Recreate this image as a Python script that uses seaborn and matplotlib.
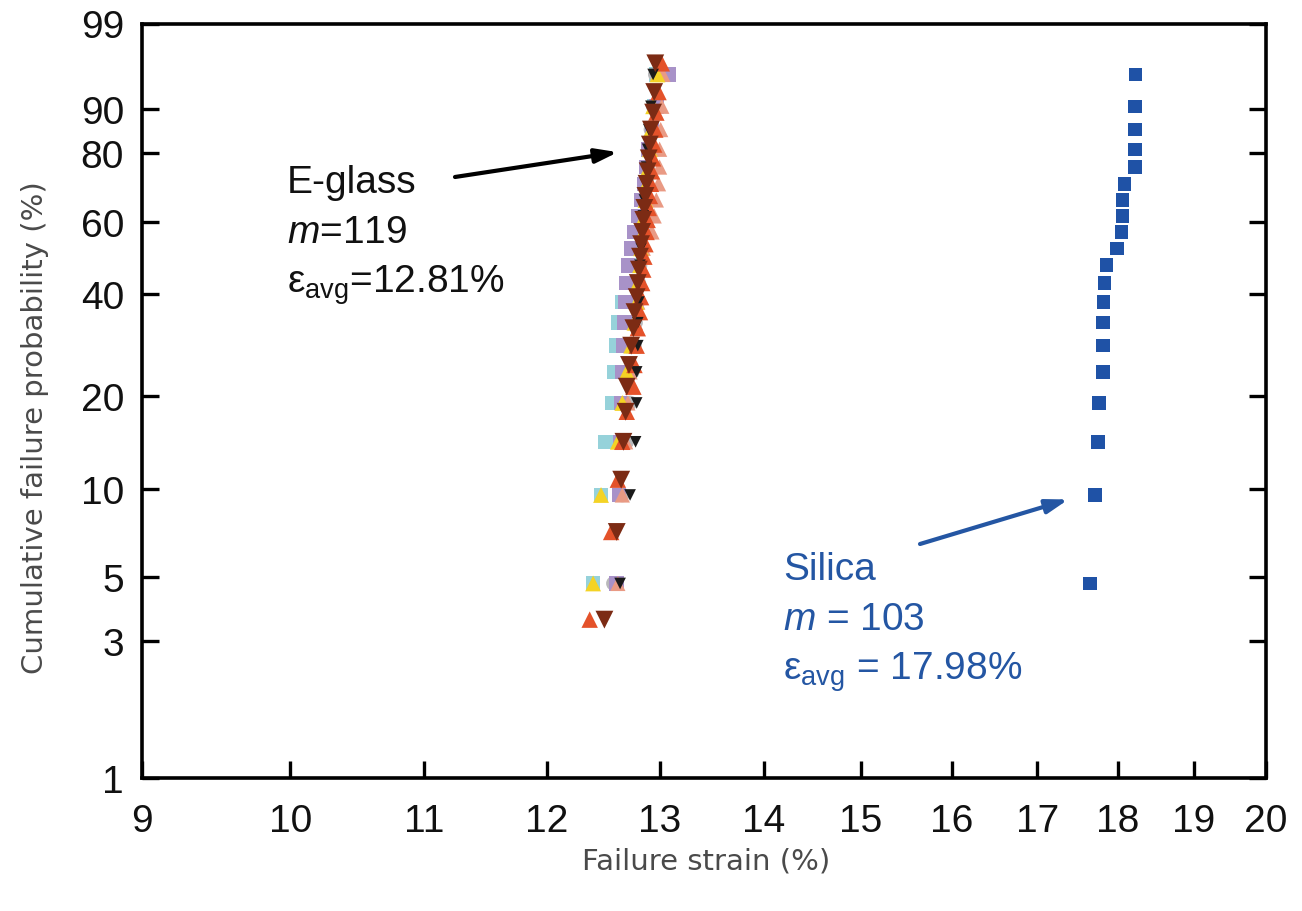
import numpy as np
import pandas as pd
import matplotlib
matplotlib.use("Agg")
import matplotlib.pyplot as plt
from matplotlib.ticker import NullLocator
import seaborn as sns

# ---- failure strains (%) of each tested batch, sorted ascending ----
eglass_lightblue = [12.40, 12.47, 12.51, 12.57, 12.59, 12.61, 12.62, 12.66, 12.70, 12.74,
                    12.78, 12.81, 12.84, 12.86, 12.88, 12.89, 12.91, 12.93, 12.95, 12.97]
eglass_gray = [12.58, 12.66, 12.70, 12.73, 12.75, 12.77, 12.78, 12.80, 12.81, 12.82,
               12.84, 12.85, 12.86, 12.87, 12.88, 12.89, 12.90, 12.92, 12.94, 12.96]
eglass_lavender = [12.61, 12.63, 12.64, 12.65, 12.66, 12.67, 12.68, 12.69, 12.70, 12.71,
                   12.74, 12.77, 12.80, 12.83, 12.86, 12.88, 12.90, 12.93, 12.97, 13.08]
eglass_salmon = [12.62, 12.66, 12.69, 12.71, 12.73, 12.76, 12.78, 12.80, 12.82, 12.83,
                 12.85, 12.93, 12.95, 12.97, 12.99, 13.00, 13.00, 13.01, 13.02, 13.03]
eglass_yellow = [12.40, 12.47, 12.62, 12.66, 12.70, 12.74, 12.77, 12.79, 12.80, 12.82,
                 12.83, 12.85, 12.86, 12.87, 12.88, 12.90, 12.91, 12.92, 12.94, 12.98]
eglass_red = [12.37, 12.56, 12.62, 12.66, 12.70, 12.76, 12.77, 12.79, 12.80, 12.82,
              12.83, 12.84, 12.85, 12.86, 12.87, 12.88, 12.89, 12.90, 12.91, 12.92,
              12.93, 12.94, 12.95, 12.96, 12.97, 12.99, 13.02]
eglass_black = [12.64, 12.73, 12.78, 12.79, 12.79, 12.80, 12.80, 12.81, 12.81, 12.82,
                12.83, 12.84, 12.85, 12.86, 12.87, 12.88, 12.89, 12.90, 12.92, 12.94]
eglass_brown = [12.50, 12.61, 12.65, 12.67, 12.69, 12.70, 12.72, 12.74, 12.76, 12.77,
                12.79, 12.80, 12.81, 12.82, 12.83, 12.84, 12.85, 12.86, 12.87, 12.88,
                12.89, 12.90, 12.91, 12.92, 12.94, 12.95, 12.96]
silica = [17.65, 17.71, 17.75, 17.76, 17.81, 17.81, 17.81, 17.82, 17.83, 17.86,
          17.99, 18.05, 18.06, 18.06, 18.09, 18.22, 18.22, 18.22, 18.22, 18.23]

x_ticks = [9, 10, 11, 12, 13, 14, 15, 16, 17, 18, 19, 20]
y_ticks = [1, 3, 5, 10, 20, 40, 60, 80, 90, 99]

eglass_label = ["E-glass", r"$\mathit{m}$=119", r"$\mathrm{\varepsilon}_{\mathrm{avg}}$=12.81%"]
silica_label = ["Silica", r"$\mathit{m}$ = 103", r"$\mathrm{\varepsilon}_{\mathrm{avg}}$ = 17.98%"]

BLUE = "#2456a3"

# (values, colour, marker, size) in drawing order
series = [
    (eglass_lightblue, "#96d2da", "s", 110),
    (eglass_gray, "#b9b9bb", "o", 110),
    (eglass_lavender, "#a892c8", "s", 110),
    (eglass_salmon, "#e99a84", "^", 120),
    (eglass_yellow, "#f4d325", "^", 130),
    (eglass_red, "#e4522a", "^", 140),
    (eglass_black, "#1a1a1a", "v", 70),
    (eglass_brown, "#7c2b14", "v", 165),
    (silica, "#1f52a6", "s", 95),
]


def median_rank(values):
    n = len(values)
    return [100.0 * (i + 1) / (n + 1) for i in range(n)]


def weibull_fwd(p):
    p = np.clip(np.asarray(p, dtype=float), 1e-6, 100 - 1e-6)
    return np.log(-np.log(1.0 - p / 100.0))


def weibull_inv(w):
    return 100.0 * (1.0 - np.exp(-np.exp(np.asarray(w, dtype=float))))


sns.set_theme(style="white")
plt.rcParams["font.family"] = ["Liberation Sans", "DejaVu Sans"]
plt.rcParams["mathtext.fontset"] = "custom"
plt.rcParams["mathtext.rm"] = "Liberation Sans"
plt.rcParams["mathtext.it"] = "Liberation Sans:italic"
plt.rcParams["mathtext.bf"] = "Liberation Sans:bold"

W, H = 1302, 912
fig = plt.figure(figsize=(W / 100, H / 100), dpi=100)
ax = fig.add_axes([142 / W, 1 - 779 / H, (1266 - 142) / W, (779 - 24.5) / H])

ax.set_xscale("log")
ax.set_yscale("function", functions=(weibull_fwd, weibull_inv))

for values, colour, marker, size in series:
    df = pd.DataFrame({"strain": values, "prob": median_rank(values)})
    sns.scatterplot(data=df, x="strain", y="prob", marker=marker, color=colour,
                    s=size, linewidth=0, edgecolor="none", ax=ax, legend=False,
                    zorder=3)

ax.set_xlim(9, 20)
ax.set_ylim(1, 99)
ax.set_xticks(x_ticks)
ax.set_xticklabels([str(t) for t in x_ticks])
ax.set_yticks(y_ticks)
ax.set_yticklabels([str(t) for t in y_ticks])
ax.xaxis.set_minor_locator(NullLocator())
ax.yaxis.set_minor_locator(NullLocator())
ax.set_xlabel("")
ax.set_ylabel("")

for side in ["left", "right", "top", "bottom"]:
    ax.spines[side].set_visible(True)
    ax.spines[side].set_color("black")
    ax.spines[side].set_linewidth(2.6)

ax.tick_params(axis="both", direction="in", length=12, width=2.4, color="black",
               labelsize=28, labelcolor="#111111")
ax.tick_params(axis="x", bottom=True, top=False, pad=18)
ax.tick_params(axis="y", left=True, right=True, pad=13)

label_font = ["DejaVu Sans"]
fig.text(35 / W, 1 - 428 / H, "Cumulative failure probability (%)", rotation=90,
         ha="center", va="center", fontsize=21, color="#4a4a4a", family=label_font)
fig.text(706 / W, 1 - 862 / H, "Failure strain (%)", ha="center", va="center",
         fontsize=21, color="#4a4a4a", family=label_font)

# material annotations
for i, line in enumerate(eglass_label):
    fig.text(287 / W, 1 - (193 + 50 * i) / H, line, ha="left", va="baseline",
             fontsize=28, color="#111111")
for i, line in enumerate(silica_label):
    fig.text(783 / W, 1 - (580 + 50 * i) / H, line, ha="left", va="baseline",
             fontsize=28, color=BLUE)

ax.annotate("", xy=(12.62, 80.2), xycoords="data",
            xytext=(455, H - 178), textcoords="figure pixels",
            arrowprops=dict(arrowstyle="-|>,head_length=1.1,head_width=0.35",
                            lw=3, color="black", shrinkA=0, shrinkB=0))
ax.annotate("", xy=(17.38, 9.2), xycoords="data",
            xytext=(920, H - 545), textcoords="figure pixels",
            arrowprops=dict(arrowstyle="-|>,head_length=1.1,head_width=0.35",
                            lw=3, color=BLUE, shrinkA=0, shrinkB=0))

fig.savefig("out.png", dpi=100, facecolor="white")
